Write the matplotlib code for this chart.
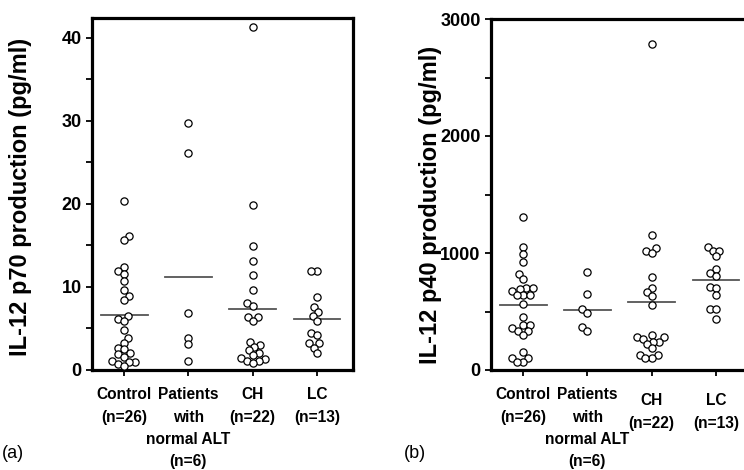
import numpy as np
import matplotlib
matplotlib.use('Agg')
import matplotlib.pyplot as plt
import matplotlib.transforms as mtransforms
from matplotlib.ticker import MultipleLocator

# ---- data ------------------------------------------------------------------
groups_a = ['Control\n(n=26)', 'Patients\nwith\nnormal ALT\n(n=6)', 'CH\n(n=22)', 'LC\n(n=13)']
groups_b = ['Control\n(n=26)', 'Patients\nwith\nnormal ALT\n(n=6)', 'CH\n(n=22)', 'LC\n(n=13)']

p70_control = [20.3, 16.1, 15.6, 12.4, 11.9, 11.6, 10.7, 9.6, 8.9, 8.4, 6.5, 6.2, 5.9,
               4.8, 3.9, 3.3, 2.7, 2.5, 2.0, 1.9, 1.6, 1.1, 1.0, 1.0, 0.7, 0.5]
p70_normal_alt = [29.8, 26.1, 6.9, 3.9, 3.1, 1.1]
p70_ch = [41.3, 19.9, 14.9, 13.1, 11.4, 9.6, 8.1, 7.7, 6.4, 6.4, 5.9,
          3.4, 3.0, 2.8, 2.4, 2.1, 1.8, 1.4, 1.3, 1.1, 1.1, 0.9]
p70_lc = [11.9, 11.9, 8.8, 7.6, 7.0, 6.5, 5.9, 4.5, 4.2, 3.2, 3.2, 2.7, 2.0]
p70_means = [6.6, 11.2, 7.4, 6.1]

p40_control = [1308, 1049, 991, 925, 819, 776, 704, 704, 690, 675, 641, 641, 641,
               566, 451, 388, 388, 359, 336, 336, 302, 152, 101, 101, 66, 66]
p40_normal_alt = [839, 647, 523, 489, 365, 331]
p40_ch = [2788, 1154, 1040, 1020, 997, 792, 698, 669, 632, 556,
          299, 279, 279, 262, 242, 242, 222, 185, 128, 128, 105, 105]
p40_lc = [1054, 1020, 1020, 974, 860, 826, 803, 712, 698, 641, 519, 519, 433]
p40_means = [555, 517, 580, 769]

DPI = 100
DIAM = 6.4   # px, spacing between swarm points (points overlap a little)


def swarm_x(ax, xc, vals, d):
    # simple beeswarm: put each point as close to the centre as possible
    vals = np.asarray(vals, dtype=float)
    disp = ax.transData.transform(np.column_stack([np.full(len(vals), xc), vals]))
    cx = disp[0, 0]
    xs = np.empty(len(vals))
    placed = []
    for i in np.argsort(vals):
        y = disp[i, 1]
        near = [(px, py) for px, py in placed if abs(py - y) < d]
        cands = [cx]
        for px, py in near:
            dx = np.sqrt(d**2 - (py - y)**2)
            cands += [px - dx, px + dx]
        cands.sort(key=lambda c: abs(c - cx))
        for c in cands:
            if all((c - px)**2 + (y - py)**2 >= d**2 - 1e-6 for px, py in near):
                break
        placed.append((c, y))
        xs[i] = c
    return ax.transData.inverted().transform(np.column_stack([xs, disp[:, 1]]))[:, 0]


def panel(ax, data, means, labels, ymax, major):
    ax.set_xlim(-0.5, 3.56)
    ax.set_ylim(0, ymax)
    for i, vals in enumerate(data):
        xs = swarm_x(ax, i, vals, DIAM)
        ax.plot(xs, vals, 'o', ms=5.2, mfc='white', mec='black', mew=0.9,
                clip_on=False, zorder=3)
        ax.plot([i - 0.365, i + 0.365], [means[i], means[i]], color='#555555',
                lw=1.3, zorder=2)
    for s in ax.spines.values():
        s.set_linewidth(2.3)
    ax.yaxis.set_major_locator(MultipleLocator(major))
    ax.yaxis.set_minor_locator(MultipleLocator(major / 2))
    ax.tick_params(axis='both', which='major', direction='out', length=4.5, width=1.3,
                   labelsize=13, pad=3)
    ax.tick_params(axis='y', which='minor', direction='out', length=4.5, width=1.3)
    ax.tick_params(axis='x', pad=8)
    ax.set_xticks(range(len(labels)))
    ax.set_xticklabels(labels, fontsize=11.2, fontweight='bold', linespacing=1.6)
    for lab in ax.get_yticklabels():
        lab.set_fontweight('bold')


plt.rcParams['font.family'] = ['Liberation Sans', 'DejaVu Sans']

fig = plt.figure(figsize=(7.44, 4.70), dpi=DPI)
ax_a = fig.add_axes([92 / 744, 100 / 470, 261 / 744, 352 / 470])
ax_b = fig.add_axes([491 / 744, 100 / 470, 261 / 744, 351 / 470])

panel(ax_a, [p70_control, p70_normal_alt, p70_ch, p70_lc], p70_means, groups_a, 42.4, 10)
panel(ax_b, [p40_control, p40_normal_alt, p40_ch, p40_lc], p40_means, groups_b, 3000, 1000)

# in panel (b) the CH and LC labels sit a little lower
shift = mtransforms.ScaledTranslation(0, -6 / DPI, fig.dpi_scale_trans)
for lab in ax_b.get_xticklabels()[2:]:
    lab.set_transform(lab.get_transform() + shift)

fig.text(21 / 744, 1 - 197 / 470, 'IL-12 p70 production (pg/ml)', rotation=90,
         ha='center', va='center', fontsize=17, fontweight='bold')
fig.text(430 / 744, 1 - 205 / 470, 'IL-12 p40 production (pg/ml)', rotation=90,
         ha='center', va='center', fontsize=17, fontweight='bold')
fig.text(0.002, 1 - 454 / 470, '(a)', ha='left', va='center', fontsize=13)
fig.text(404 / 744, 1 - 454 / 470, '(b)', ha='left', va='center', fontsize=13)

fig.savefig('out.png', dpi=DPI)
